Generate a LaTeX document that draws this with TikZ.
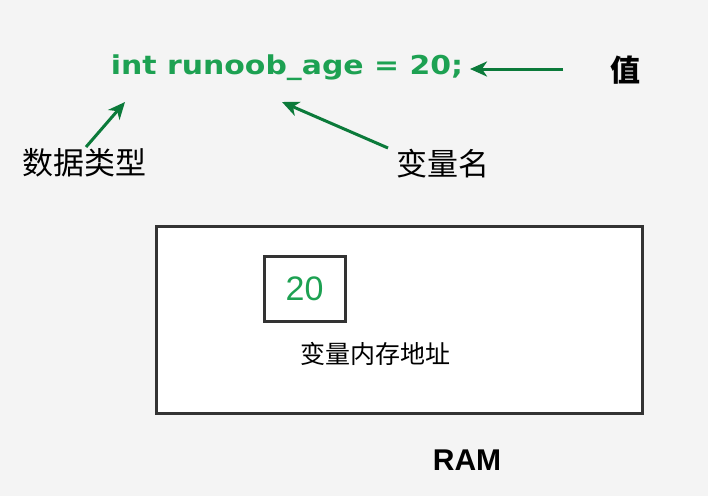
\documentclass[tikz,border=0pt]{standalone}
\usepackage{fontspec}
\setmainfont{Liberation Sans}
\newfontfamily\cjk{Noto Sans CJK SC}
\newfontfamily\codefont[FakeStretch=1.15]{DejaVu Sans}
\usetikzlibrary{arrows.meta}
\definecolor{bggray}{HTML}{F4F4F4}
\definecolor{codegreen}{HTML}{1DA152}
\definecolor{arrowgreen}{HTML}{0B7A3A}
\definecolor{boxgray}{HTML}{333333}
\tikzset{
  pointer/.style={arrowgreen, line width=3pt, -{Stealth[length=17pt,width=15pt,inset=5pt]}},
  memory/.style={draw=boxgray, line width=3pt, fill=white},
  label/.style={font=\cjk\fontsize{31}{31}\selectfont, text=black, inner sep=0pt}
}
\begin{document}
\begin{tikzpicture}[x=1pt,y=-1pt]
	\fill[bggray] (0,0) rectangle (708,496);
	\useasboundingbox (0,0) rectangle (708,496);

	\node[inner sep=0pt, text=codegreen, font=\codefont\bfseries\fontsize{26}{26}\selectfont] (code) at (287,68) {int runoob\_age = 20;};
	\node[label, font=\cjk\bfseries\fontsize{30}{30}\selectfont] (value) at (625,70) {值};
	\node[label] (type) at (84,163) {数据类型};
	\node[label] (name) at (443,164) {变量名};

	\coordinate (typehead) at (125,102);
	\coordinate (typetail) at (86,147);
	\coordinate (namehead) at (282,102);
	\coordinate (nametail) at (388,148);
	\coordinate (valuehead) at (470,69);
	\coordinate (valuetail) at (563,69);

	\draw[pointer] (valuetail) -- (valuehead);
	\draw[pointer] (typetail) -- (typehead);
	\draw[pointer] (nametail) -- (namehead);

	% ram block
	\draw[memory] (156,226) rectangle (642,413);
	\node[memory, minimum width=81pt, minimum height=65pt, inner sep=0pt, text=codegreen, font=\fontsize{34}{34}\selectfont] (cell) at (304.5,288.5) {20};
	\node[label, font=\cjk\fontsize{25}{25}\selectfont] (addr) at (375,354) {变量内存地址};

	\node[inner sep=0pt, font=\bfseries\fontsize{30}{30}\selectfont] (ram) at (467,460) {RAM};
\end{tikzpicture}
\end{document}
